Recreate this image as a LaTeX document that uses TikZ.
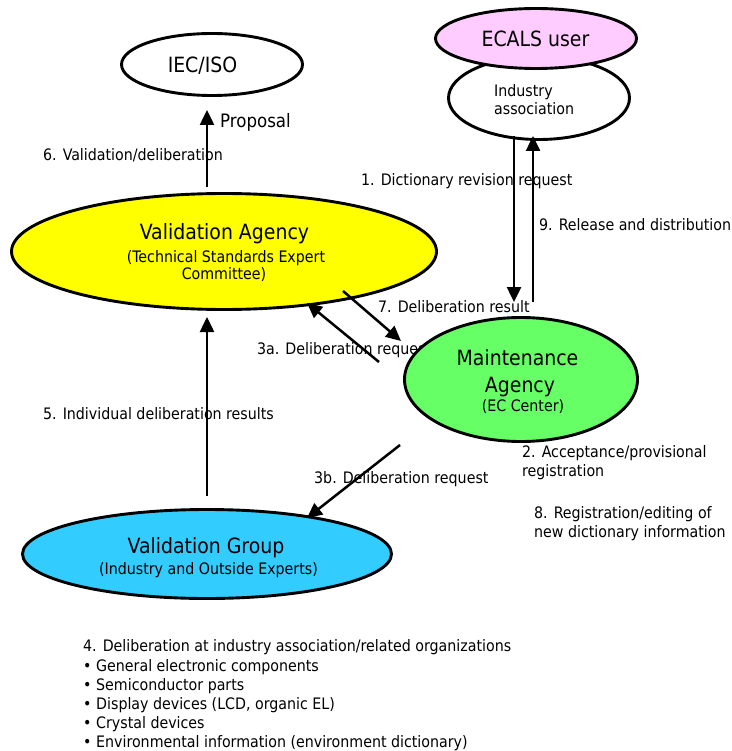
\documentclass[tikz,border=0pt]{standalone}
\usepackage{fontspec}
\setmainfont{DejaVu Sans Condensed}
\usetikzlibrary{shapes.geometric,arrows.meta}
\definecolor{vayellow}{HTML}{FFFF00}
\definecolor{magreen}{HTML}{66FF66}
\definecolor{vgblue}{HTML}{33CCFF}
\definecolor{ecpink}{HTML}{FFCCFF}
\begin{document}
\begin{tikzpicture}[x=1pt,y=-1pt,
  ell/.style={ellipse, draw, line width=2.9pt, inner sep=0pt},
  big/.style={font=\fontsize{21}{23}\selectfont, inner sep=0pt, anchor=base},
  mid/.style={font=\fontsize{15.8}{18}\selectfont, inner sep=0pt, anchor=base},
  lbl/.style={font=\fontsize{15.8}{18}\selectfont, inner sep=0pt, anchor=base west},
  arr/.style={line width=2.5pt, -{Triangle[length=15pt,width=14pt]}}
]
\useasboundingbox (0,0) rectangle (731,751);

% ---- connector labels (drawn first: lines and ellipses go over them)
\node[lbl, font=\fontsize{18.5}{20}\selectfont] (lprop) at (220,127.5) {Proposal};
\node[lbl] (l6) at (43,161) {6. Validation/deliberation};
\node[lbl] (l1) at (361,186) {1. Dictionary revision request};
\node[lbl] (l9) at (539,230) {9. Release and distribution};
\node[lbl] (l7) at (378,312) {7. Deliberation result};
\node[lbl] (l3a) at (257,354) {3a. Deliberation request};
\node[lbl] (l5) at (43,419) {5. Individual deliberation results};
\node[lbl] (l3b) at (314,483) {3b. Deliberation request};
\node[lbl] (l2a) at (522,457) {2. Acceptance/provisional};
\node[lbl] (l2b) at (522,476) {registration};
\node[lbl] (l8a) at (534,518) {8. Registration/editing of};
\node[lbl] (l8b) at (534,537) {new dictionary information};

% ---- bottom list
\node[lbl] (b0) at (83,651) {4. Deliberation at industry association/related organizations};
\node[lbl] (b1) at (83,671) {\makebox[13pt][l]{•}General electronic components};
\node[lbl] (b2) at (83,690) {\makebox[13pt][l]{•}Semiconductor parts};
\node[lbl] (b3) at (83,709) {\makebox[13pt][l]{•}Display devices (LCD, organic EL)};
\node[lbl] (b4) at (83,728) {\makebox[13pt][l]{•}Crystal devices};
\node[lbl] (b5) at (83,747) {\makebox[13pt][l]{•}Environmental information (environment dictionary)};

% ---- ellipses
\node[ell, minimum width=181pt, minimum height=62pt] (iec) at (212,64.5) {};
\node[ell, minimum width=181pt, minimum height=83pt] (ia) at (539,98) {};
\node[ell, fill=ecpink, minimum width=201pt, minimum height=60pt] (ecals) at (536,38.5) {};
\node[ell, fill=vayellow, minimum width=425pt, minimum height=116pt] (va) at (224,251.5) {};
\node[ell, fill=magreen, minimum width=233pt, minimum height=124pt] (ma) at (521,379.5) {};
\node[ell, fill=vgblue, minimum width=369pt, minimum height=89pt] (vg) at (207,554) {};

% ---- ellipse texts
\node[big] (iecT) at (202.5,73) {IEC/ISO};
\node[big] (ecalsT) at (535.5,47) {ECALS user};
\node[lbl] (iaT1) at (494,97) {Industry};
\node[lbl] (iaT2) at (494,115) {association};
\node[big] (vaT1) at (224.5,239) {Validation Agency};
\node[mid] (vaT2) at (226,262) {(Technical Standards Expert};
\node[mid] (vaT3) at (224,279) {Committee)};
\node[big] (maT1) at (517.5,365) {Maintenance};
\node[big] (maT2) at (520,392) {Agency};
\node[mid] (maT3) at (523,411) {(EC Center)};
\node[big] (vgT1) at (206,553) {Validation Group};
\node[mid] (vgT2) at (208.5,574) {(Industry and Outside Experts)};

% ---- connector end points
\coordinate (p6s) at (207,187);  \coordinate (p6e) at (207,110);
\coordinate (p1s) at (514,136);  \coordinate (p1e) at (514,302);
\coordinate (p9s) at (533,302);  \coordinate (p9e) at (533,136);
\coordinate (p7s) at (343,291);  \coordinate (p7e) at (401,341);
\coordinate (p3as) at (379,362); \coordinate (p3ae) at (307,303);
\coordinate (p3bs) at (400,445); \coordinate (p3be) at (307,518);
\coordinate (p5s) at (207,496);  \coordinate (p5e) at (207,317);

% ---- connectors
\draw[arr] (p6s) -- (p6e);
\draw[arr] (p1s) -- (p1e);
\draw[arr] (p9s) -- (p9e);
\draw[arr] (p7s) -- (p7e);
\draw[arr] (p3as) -- (p3ae);
\draw[arr] (p3bs) -- (p3be);
\draw[arr] (p5s) -- (p5e);
\end{tikzpicture}
\end{document}
